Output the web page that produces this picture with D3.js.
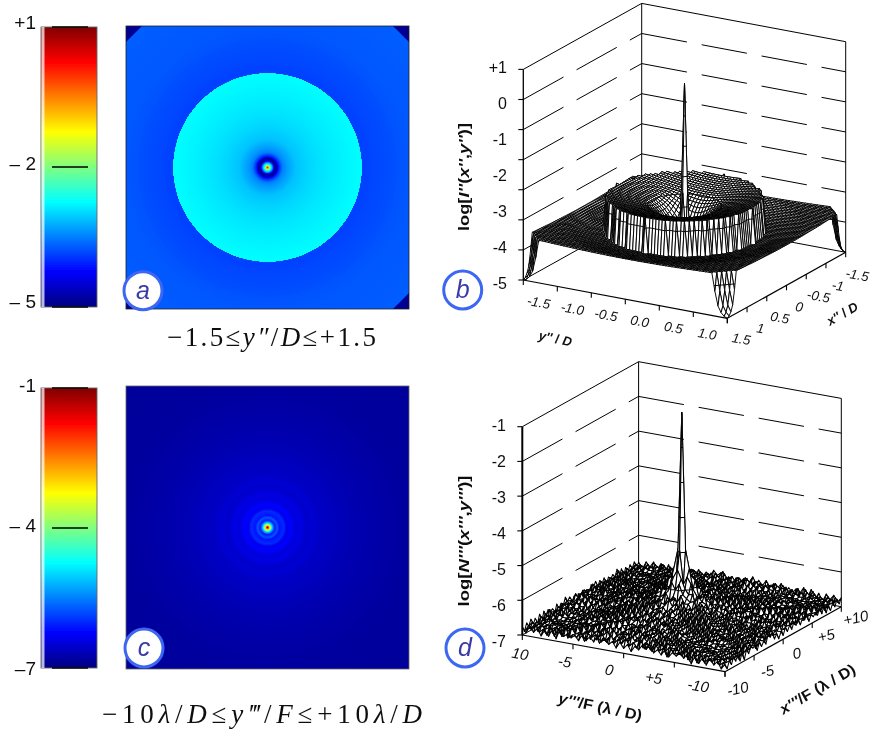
<!DOCTYPE html>
<html><head><meta charset="utf-8">
<script src="https://cdn.jsdelivr.net/npm/d3@7"></script>
<style>
html,body{margin:0;padding:0;background:#fff}
svg{display:block}
text{font-family:"Liberation Sans",Arial,sans-serif;fill:#111}
.cap,.cap tspan{font-family:"Liberation Serif","Times New Roman",serif;font-size:27px}
</style></head><body>
<script>
// ---------- colour map ----------
const jetPositions=[0,.125,.375,.625,.875,1];
const jetColors=["#000080","#0000ff","#00ffff","#ffff00","#ff0000","#800000"];
// ---------- panel a : pupil-plane log intensity, colours ----------
const heatARadius=[0,.01,.02,.035,.05,.065,.08,.095,.11,.13,.16,.2,.3,.45,.6,.8,1,1.0005,1.2,1.5,1.99,2.13];
const heatAValue=[.2,-.6,-1.7,-2.7,-3.3,-4.2,-4.8,-4.85,-4.3,-3.9,-3.5,-3.35,-3.1,-2.98,-2.9,-2.82,-2.75,-3.88,-3.82,-3.74,-3.7,-3.7];
const heatCornerCut=.17, heatCornerValue=-4.9;
// ---------- panel b : heights read from the wire-frame ----------
const surfBRadius=[0,.02,.04,.06,.08,.1,.13,.18,.25,.35,.5,.7,1,1.0005,1.2,1.5,1.99,2.13];
const surfBValue=[.2,-.9,-2.5,-3.9,-4.6,-4.75,-4.4,-3.95,-3.7,-3.45,-3.25,-3.15,-3,-4,-3.95,-3.85,-3.78,-3.78];
const notchDepth=[0,.03,.08,.14,.2];
const notchValue=[-4,-4.5,-4.8,-4.95,-5];
// ---------- panel c : colours ----------
const heatCRadius=[0,.07,.14,.21,.28,.35,.42,.5,.7,.85,1.15,1.35,1.7,1.95,2.4,2.8,3.3,3.8,4.5,5.5,7,8.5,10,14.25];
const heatCValue=[-1,-2,-3,-3.7,-4.6,-5.2,-5.6,-6.1,-5.75,-6.15,-6,-6.35,-6.25,-6.45,-6.42,-6.55,-6.52,-6.6,-6.62,-6.68,-6.74,-6.78,-6.82,-6.85];
// ---------- panel d : heights read from the wire-frame ----------
const surfDRadius=[0,.07,.14,.21,.28,.35,.42,.5,.75,1,1.25,1.5,1.75,2,2.25,2.5,2.75,3,3.25,3.5,3.75,4,4.25,4.5,4.75,5,5.25,5.5,5.75,6,6.25,6.5,6.75,7,7.25,7.5,7.75,8,8.25,8.5,8.75,9,9.25,9.5,9.75,10,10.25,10.5,10.75,11,11.25,11.5,11.75,12,12.25,12.5,12.75,13,13.25,13.5,13.75,14,14.25];
const surfDValue=[-1,-2,-2.6,-3.3,-4.1,-4.75,-5.4,-5.95,-5.45,-6.05,-5.85,-6.3,-6.1,-6.4,-6.25,-6.5,-6.35,-6.55,-6.4,-6.6,-6.45,-6.62,-6.48,-6.65,-6.5,-6.68,-6.53,-6.7,-6.55,-6.72,-6.57,-6.74,-6.59,-6.75,-6.6,-6.76,-6.62,-6.77,-6.63,-6.78,-6.64,-6.79,-6.65,-6.8,-6.67,-6.81,-6.68,-6.82,-6.7,-6.83,-6.71,-6.84,-6.72,-6.85,-6.73,-6.86,-6.74,-6.87,-6.75,-6.88,-6.76,-6.89,-6.77];
// small-scale roughness of the wire-frame, a repeating tile
const surfDTexture=[
 [ .06,-.09, .11,-.05, .08,-.11, .04,-.07],
 [-.10, .05,-.04, .12,-.08, .03,-.12, .09],
 [ .09,-.06, .07,-.11, .10,-.03, .06,-.10],
 [-.04, .11,-.09, .03,-.06, .12,-.08, .05],
 [ .12,-.08, .05,-.10, .04,-.07, .10,-.03],
 [-.07, .03,-.11, .08,-.12, .09,-.05, .11],
 [ .05,-.12, .09,-.04, .11,-.06, .08,-.09],
 [-.11, .08,-.03, .10,-.05, .07,-.10, .04]];
// ---------- tick labels ----------
const barALabels=["+1","– 2","– 5"], barCLabels=["-1","– 4","–7"];
const zLabelsB=["+1","0","-1","-2","-3","-4","-5"], zLabelsD=["-1","-2","-3","-4","-5","-6","-7"];
const yLabelsB=["-1.5","-1.0","-0.5","0.0","0.5","1.0"], xLabelsB=["1.5","1","0.5","0","-0.5","-1","-1.5"];
const yLabelsD=["10","-5","0","+5","-10"], xLabelsD=["-10","-5","0","+5","+10"];

const W=871,H=733;
const svg=d3.select("body").append("svg").attr("width",W).attr("height",H).attr("viewBox",[0,0,W,H]);
const defs=svg.append("defs");
defs.append("filter").attr("id","soft").attr("x",0).attr("y",0).attr("width",1).attr("height",1)
  .attr("filterUnits","objectBoundingBox").append("feGaussianBlur").attr("stdDeviation",.3);
const root=svg.append("g").attr("filter","url(#soft)");
root.append("rect").attr("width",W).attr("height",H).attr("fill","#fff");
const jet=d3.scaleLinear().domain(jetPositions).range(jetColors).clamp(true);

function colorbar(id,top,bottom,range,labels,labelYs){
  const x0=41,x1=97;
  const g=defs.append("linearGradient").attr("id",id).attr("x1",0).attr("x2",0).attr("y1",1).attr("y2",0);
  g.selectAll("stop").data(jetPositions).join("stop").attr("offset",d=>d).attr("stop-color",d=>jet(d));
  root.append("rect").attr("x",x0).attr("y",top).attr("width",x1-x0).attr("height",bottom-top).attr("fill",`url(#${id})`).attr("stroke","#666").attr("stroke-width",.9);
  root.append("rect").attr("x",x0+.5).attr("y",top).attr("width",3).attr("height",bottom-top).attr("fill","#fff").attr("opacity",.72);
  const ys=d3.scaleLinear().domain(range).range([bottom,top]);
  const mid=(range[0]+range[1])/2;
  root.selectAll(null).data([range[1],mid,range[0]]).join("line")
    .attr("x1",52).attr("x2",88).attr("y1",d=>ys(d)).attr("y2",d=>ys(d))
    .attr("stroke","#000").attr("stroke-width",1.4);
  root.selectAll(null).data(labels).join("text").attr("x",36).attr("y",(d,i)=>labelYs[i]).attr("text-anchor","end")
    .attr("dominant-baseline","middle").attr("font-size",19).text(d=>d);
}
colorbar("barA",27,307,[-5,1],barALabels,[24,165,303]);
colorbar("barC",388,668,[-7,-1],barCLabels,[387,527,670]);

function heat(id,box,half,radii,values,range){
  const [x0,y0,x1,y1]=box,cx=(x0+x1)/2,cy=(y0+y1)/2;
  const px=d3.scaleLinear().domain([0,half]).range([0,(x1-x0)/2]);
  const rMax=radii[radii.length-1];
  const t=d3.scaleLinear().domain(range).range([0,1]);
  const g=defs.append("radialGradient").attr("id",id).attr("gradientUnits","userSpaceOnUse").attr("cx",cx).attr("cy",cy).attr("r",px(rMax));
  g.selectAll("stop").data(radii).join("stop").attr("offset",d=>d/rMax).attr("stop-color",(d,i)=>jet(t(values[i])));
  root.append("rect").attr("x",x0).attr("y",y0).attr("width",x1-x0).attr("height",y1-y0).attr("fill",`url(#${id})`);
  return {px,t,x0,y0,x1,y1,cx,cy};
}
const ha=heat("heatA",[126,26,409,309],1.5,heatARadius,heatAValue,[-5,1]);
const cut=ha.px(heatCornerCut);
const corners=[[ha.x0,ha.y0,1,1],[ha.x1,ha.y0,-1,1],[ha.x0,ha.y1,1,-1],[ha.x1,ha.y1,-1,-1]];
root.selectAll(null).data(corners).join("path")
  .attr("d",d=>`M${d[0]},${d[1]}L${d[0]+d[2]*cut},${d[1]}L${d[0]},${d[1]+d[3]*cut}Z`)
  .attr("fill",jet(ha.t(heatCornerValue)));
root.append("rect").attr("x",126).attr("y",26).attr("width",283).attr("height",283).attr("fill","none").attr("stroke","#222").attr("stroke-width",.8);
heat("heatC",[126,386,409,669],10,heatCRadius,heatCValue,[-7,-1]);
root.append("rect").attr("x",126).attr("y",386).attr("width",283).attr("height",283).attr("fill","none").attr("stroke","#666").attr("stroke-width",.8);

// ---------- 3D panels ----------
function surface(o){
  const g=root.append("g");
  const fy=d3.scaleLinear().domain(o.yDomain).range([0,1]);
  const fx=d3.scaleLinear().domain(o.xDomain).range([0,1]);
  const zs=d3.scaleLinear().domain(o.zDomain).range([0,o.height]);
  const P=(x,y,z)=>[o.left[0]+fy(y)*(o.front[0]-o.left[0])+fx(x)*(o.right[0]-o.front[0]),
                    o.left[1]+fy(y)*(o.front[1]-o.left[1])+fx(x)*(o.right[1]-o.front[1])-zs(z)];
  const [xa,xb]=o.xDomain,[ya,yb]=o.yDomain,[z0,z1]=o.zDomain;
  const seg=(a,b,w,dash)=>g.append("line").attr("x1",a[0]).attr("y1",a[1]).attr("x2",b[0]).attr("y2",b[1])
      .attr("stroke","#000").attr("stroke-width",w||.9).attr("stroke-dasharray",dash||null);
  const levels=d3.range(o.levelCount).map(k=>z0+(z1-z0)*k/(o.levelCount-1));
  levels.forEach((z,k)=>{
    const solid=k===0||k===levels.length-1;
    seg(P(xa,ya,z),P(xb,ya,z),1,solid?null:"46 15");
    seg(P(xb,ya,z),P(xb,yb,z),1,solid?null:"46 15");
  });
  seg(P(xb,ya,z0),P(xb,ya,z1),1);
  seg(P(xb,yb,z0),P(xb,yb,z1),1);
  const n=o.n;
  const xs=d3.range(n).map(i=>xa+(xb-xa)*i/(n-1));
  const ys=d3.range(n).map(j=>ya+(yb-ya)*j/(n-1));
  const Z=xs.map((x,i)=>ys.map((y,j)=>o.heightAt(x,y,i,j)));
  const quads=[];
  for(let i=n-2;i>=0;i--)for(let j=0;j<n-1;j++){
    const c=[[i,j],[i,j+1],[i+1,j+1],[i+1,j]];
    const pts=c.map(([a,b])=>[xs[a],ys[b],Z[a][b]]);
    const scr=pts.map(p=>P(p[0],p[1],p[2]));
    let d="M"+scr.map(s=>s[0].toFixed(2)+","+s[1].toFixed(2)).join("L")+"Z";
    levels.forEach(L=>{
      const cross=[];
      for(let e=0;e<4;e++){
        const a=pts[e],b=pts[(e+1)%4];
        if((a[2]-L)*(b[2]-L)<0){
          const u=(L-a[2])/(b[2]-a[2]);
          cross.push(P(a[0]+u*(b[0]-a[0]),a[1]+u*(b[1]-a[1]),L));
        }
      }
      for(let q=0;q+1<cross.length;q+=2)
        d+=`M${cross[q][0].toFixed(2)},${cross[q][1].toFixed(2)}L${cross[q+1][0].toFixed(2)},${cross[q+1][1].toFixed(2)}`;
    });
    quads.push(d);
  }
  g.append("g").attr("fill","#fff").attr("stroke","#000").attr("stroke-width",o.meshWidth).attr("stroke-linejoin","round")
    .selectAll("path").data(quads).join("path").attr("d",d=>d);
  seg(P(xa,ya,z0),P(xa,ya,z1),o.axisWidth);
  seg(P(xa,ya,z0),P(xa,yb,z0),1.2);
  seg(P(xa,yb,z0),P(xb,yb,z0),1.2);
  levels.forEach(z=>{const p=P(xa,ya,z);seg([p[0]-5,p[1]],p,1.1);});
  d3.range(o.yTicks).forEach(i=>{const p=P(xa,ya+(yb-ya)*i/(o.yTicks-1),z0);seg(p,[p[0],p[1]+5],1.1);});
  d3.range(o.xTicks).forEach(i=>{const p=P(xa+(xb-xa)*i/(o.xTicks-1),yb,z0);seg(p,[p[0],p[1]+5],1.1);});
}
const radialB=d3.scaleLinear().domain(surfBRadius).range(surfBValue);
const radialD=d3.scaleLinear().domain(surfDRadius).range(surfDValue);
const notch=d3.scaleLinear().domain(notchDepth).range(notchValue).clamp(true);
surface({left:[523.3,280],front:[727.3,318.3],right:[845.7,252.3],height:210.6,
  xDomain:[1.5,-1.5],yDomain:[-1.5,1.5],zDomain:[-5,1],levelCount:8,n:67,meshWidth:.95,axisWidth:1.3,yTicks:7,xTicks:7,
  heightAt:(x,y)=>{const over=Math.abs(x)+Math.abs(y)-(3-notchDepth[notchDepth.length-1]);
    return over>1e-6?notch(over):radialB(Math.hypot(x,y));}});
surface({left:[522.3,635],front:[725,671.7],right:[841.3,606.7],height:208.3,
  xDomain:[-10,10],yDomain:[-10,10],zDomain:[-7,-1],levelCount:7,n:55,meshWidth:1.05,axisWidth:2,yTicks:5,xTicks:5,
  heightAt:(x,y,i,j)=>{const r=Math.hypot(x,y);
    return radialD(r)+(r>.8?surfDTexture[i%8][j%8]:0);}});

function labelRow(labels,a,b,rot,size,italic){
  const sx=d3.scaleLinear().domain([0,labels.length-1]).range([a[0],b[0]]);
  const sy=d3.scaleLinear().domain([0,labels.length-1]).range([a[1],b[1]]);
  root.selectAll(null).data(labels).join("text")
    .attr("text-anchor","middle").attr("dominant-baseline","middle").attr("font-size",size)
    .attr("font-style",italic?"italic":null)
    .attr("transform",(d,i)=>`translate(${sx(i)},${sy(i)}) rotate(${rot})`).text(d=>d);
}
function zLabels(labels,xEnd,yTop,yBottom){
  const sy=d3.scaleLinear().domain([0,labels.length-1]).range([yTop,yBottom]);
  root.selectAll(null).data(labels).join("text").attr("x",xEnd).attr("y",(d,i)=>sy(i))
    .attr("text-anchor","end").attr("dominant-baseline","middle").attr("font-size",16).text(d=>d);
}
zLabels(zLabelsB,507,69,285);
zLabels(zLabelsD,506,427,643);
labelRow(yLabelsB,[538.5,303.5],[707,335],10,13.5,true);
labelRow(xLabelsB,[741,340],[857,276],10,13.5,true);
labelRow(yLabelsD,[520,655],[698,687],10,15,true);
labelRow(xLabelsD,[738,690],[856,619],-12,15,true);

function rich(parts,x,y,rot,size,lengthPx){
  const t=root.append("text").attr("transform",`translate(${x},${y}) rotate(${rot})`).attr("text-anchor","middle")
    .attr("dominant-baseline","middle").attr("font-size",size).attr("font-weight","bold");
  if(lengthPx)t.attr("textLength",lengthPx).attr("lengthAdjust","spacingAndGlyphs");
  parts.forEach(p=>t.append("tspan").attr("font-style",p[1]?"italic":null).text(p[0]));
}
rich([["log[",0],["I''",1],["(",0],["x''",1],[",",0],["y''",1],[")]",0]],465,177,-90,15,108);
rich([["log[",0],["N'''",1],["(",0],["x'''",1],[",",0],["y'''",1],[")]",0]],465,541,-90,15,131);
rich([["y''",1],[" / ",0],["D",1]],555,340,12,13);
rich([["x''",1],[" / ",0],["D",1]],843,315,-30,13);
rich([["y'''",1],["/F (λ / D)",0]],600,708,12,15,85);
rich([["x'''",1],["/F (λ / D)",0]],818,690,-30,15,85);

function caption(parts,x,y,len){
  const t=root.append("text").attr("class","cap").attr("x",x).attr("y",y).attr("textLength",len).attr("lengthAdjust","spacing");
  parts.forEach(p=>t.append("tspan").attr("font-style",p[1]?"italic":null).text(p[0]));
}
caption([["−1.5≤",0],["y″",1],["/",0],["D",1],["≤+1.5",0]],167,346,209);
caption([["−10",0],["λ",1],["/",0],["D",1],["≤",0],["y‴",1],["/",0],["F",1],["≤+10",0],["λ",1],["/",0],["D",1]],102,723,320);

const badges=[["a",143,290.7],["c",144,648],["b",462.7,290],["d",465,648]];
const bg=root.selectAll(null).data(badges).join("g").attr("transform",d=>`translate(${d[1]},${d[2]})`);
bg.append("circle").attr("r",19).attr("fill","#fff").attr("stroke","#3d66f2").attr("stroke-width",3);
bg.append("text").attr("text-anchor","middle").attr("y",8).attr("font-size",25).attr("font-style","italic").style("fill","#3a3aa6").text(d=>d[0]);
</script>
</body></html>
